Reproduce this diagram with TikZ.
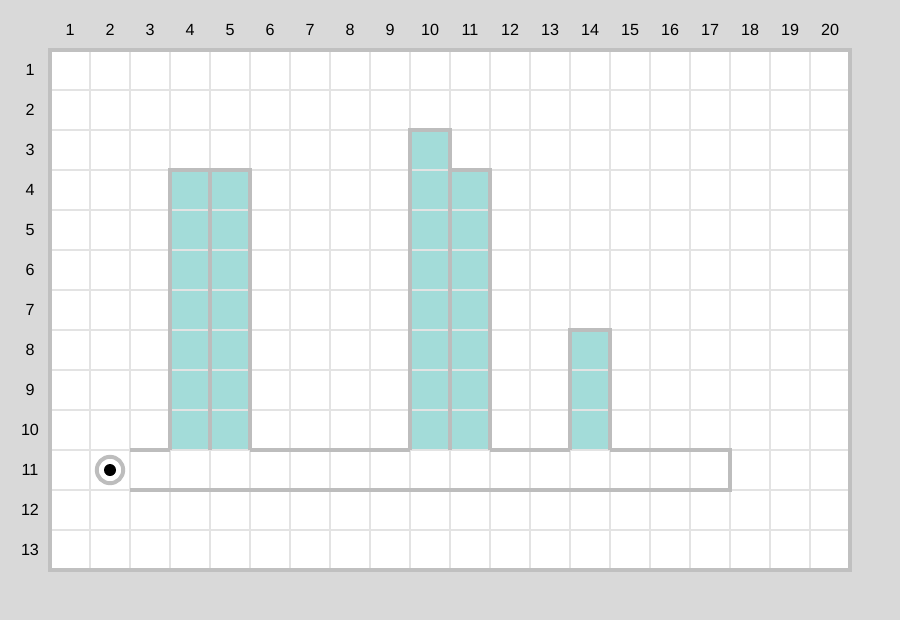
\documentclass[tikz,border=0pt]{standalone}
\usepackage{fontspec}
\setmainfont{Liberation Sans}
\usetikzlibrary{calc}
\definecolor{bggray}{HTML}{D9D9D9}
\definecolor{framegray}{HTML}{C0C0C0}
\definecolor{linegray}{HTML}{E3E3E3}
\definecolor{wallgray}{HTML}{BDBDBD}
\definecolor{water}{HTML}{A3DCD9}
\tikzset{
  lbl/.style={font=\fontsize{11.5}{13}\selectfont,inner sep=0pt},
  wet/.style={fill=water},
  gl/.style={draw=linegray,line width=1.4pt},
  wall/.style={draw=wallgray,line width=2.2pt},
  ring/.style={circle,draw=wallgray,line width=2.8pt,minimum size=6.6mm,inner sep=0pt},
  dot/.style={circle,fill=black,minimum size=3mm,inner sep=0pt},
  every picture/.style={line width=0.5pt},
}
\begin{document}
\begin{tikzpicture}[x=1cm,y=1cm]
\fill[bggray] (-1.25,1.25) rectangle (21.25,-14.25);
\useasboundingbox (-1.25,1.25) rectangle (21.25,-14.25);
\fill[white] (0,0) rectangle (20,-13);
% water
\fill[wet] (3,-3) rectangle (5,-10); \fill[wet] (9,-2) rectangle (10,-10);
\fill[wet] (10,-3) rectangle (11,-10); \fill[wet] (13,-7) rectangle (14,-10);
% grid
\foreach \i in {1,...,19} \draw[gl] (\i,0) -- (\i,-13);
\foreach \j in {1,...,12} \draw[gl] (0,-\j) -- (20,-\j);
% bars
\draw[wall] (3,-10) -- (3,-3) -- (4,-3) -- (4,-10); \draw[wall] (4,-10) -- (4,-3) -- (5,-3) -- (5,-10);
\draw[wall] (9,-10) -- (9,-2) -- (10,-2) -- (10,-10); \draw[wall] (10,-10) -- (10,-3) -- (11,-3) -- (11,-10);
\draw[wall] (13,-10) -- (13,-7) -- (14,-7) -- (14,-10);
% floor
\draw[wall] (2,-10) -- (3,-10); \draw[wall] (5,-10) -- (9,-10); \draw[wall] (11,-10) -- (13,-10);
\draw[wall] (14,-10) -- (17,-10) -- (17,-11) -- (2,-11);
\draw[draw=framegray,line width=2.8pt] (0,0) rectangle (20,-13);
% labels
\foreach \col in {1,...,20} \node[lbl] (c\col) at (\col-0.5,0.5) {\col};
\foreach \row in {1,...,13} \node[lbl] (r\row) at (-0.5,-\row+0.5) {\row};
\node[ring] (start) at (1.5,-10.5) {}; \node[dot] (pos) at (start) {};
\end{tikzpicture}
\end{document}
